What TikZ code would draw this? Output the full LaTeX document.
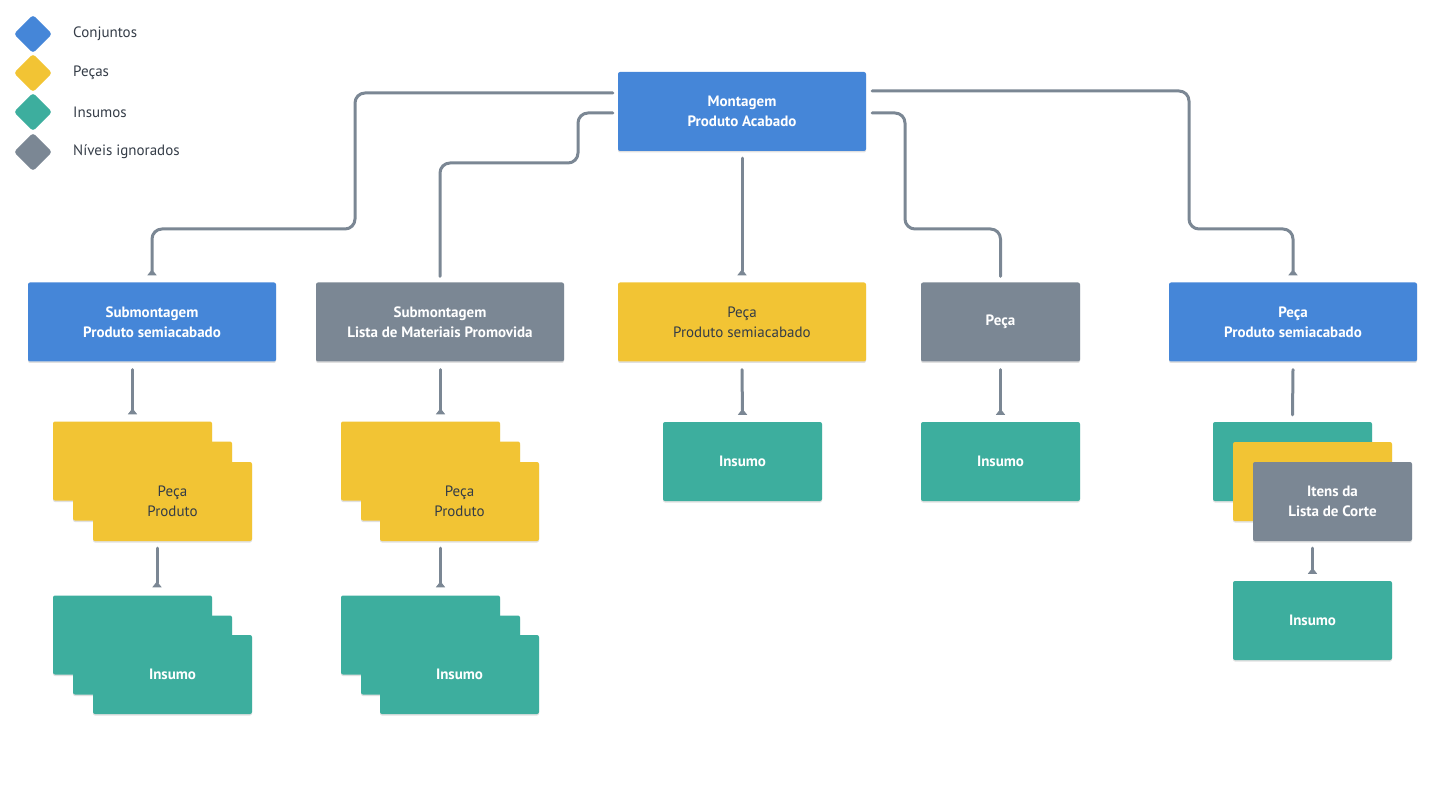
\documentclass[tikz,border=0pt]{standalone}
\usepackage{fontspec}
\setmainfont{PT Sans}
\usetikzlibrary{arrows.meta,calc,shadows}
\definecolor{conjunto}{HTML}{4586D8}
\definecolor{peca}{HTML}{F2C434}
\definecolor{insumo}{HTML}{3DAE9E}
\definecolor{ignorado}{HTML}{7B8794}
\definecolor{linha}{HTML}{7B8794}
\definecolor{escuro}{HTML}{343C47}
\tikzset{
  box/.style={rectangle, rounded corners=2pt, minimum height=79pt, inner sep=0pt,
    align=center, text=white, font=\fontsize{15}{20}\selectfont\bfseries,
    drop shadow={shadow xshift=0pt, shadow yshift=-1.5pt, opacity=0.12, fill=black}},
  wide/.style={box, minimum width=248pt},
  small/.style={box, minimum width=159pt},
  conj/.style={fill=conjunto},
  pec/.style={fill=peca, text=escuro, font=\fontsize{15}{20}\selectfont},
  ins/.style={fill=insumo},
  ign/.style={fill=ignorado},
  legd/.style={rectangle, rotate=45, minimum size=27pt, inner sep=0pt, rounded corners=3pt},
  legt/.style={anchor=west, inner sep=0pt, text=escuro, font=\fontsize{15}{18}\selectfont},
  link/.style={draw=linha, line width=3pt, rounded corners=10pt, line cap=round},
  tip/.style={-{Triangle[reversed, width=9pt, length=6pt]}}
}
\begin{document}
\begin{tikzpicture}[x=1pt, y=-1pt]
\useasboundingbox (0,0) rectangle (1444,786);

% legenda
\node[legd, fill=conjunto] (lg1) at (33,34) {};
\node[legd, fill=peca] (lg2) at (33,73) {};
\node[legd, fill=insumo] (lg3) at (33,112) {};
\node[legd, fill=ignorado] (lg4) at (33,152) {};
\node[legt] (lt1) at (73,34) {Conjuntos};
\node[legt] (lt2) at (73,73) {Peças};
\node[legt] (lt3) at (73,112) {Insumos};
\node[legt] (lt4) at (73,152) {Níveis ignorados};

% niveis
\node[wide, conj] (mont) at (742,111.5) {Montagem\\Produto Acabado};
\node[wide, conj] (subA) at (152,322) {Submontagem\\Produto semiacabado};
\node[wide, ign] (subB) at (440,322) {Submontagem\\Lista de Materiais Promovida};
\node[wide, pec] (pecaC) at (742,322) {Peça\\Produto semiacabado};
\node[small, ign] (pecaD) at (1000.5,322) {Peça};
\node[wide, conj] (pecaE) at (1293,322) {Peça\\Produto semiacabado};

% pilhas sob subA
\node[small, pec] (pA1) at (132.5,461) {};
\node[small, pec] (pA2) at (152.5,481) {};
\node[small, pec] (pA3) at (172.5,501.5) {Peça\\Produto};
\node[small, ins] (iA1) at (132.5,635) {};
\node[small, ins] (iA2) at (152.5,655) {};
\node[small, ins] (iA3) at (172.5,674.5) {Insumo};

% pilhas sob subB
\node[small, pec] (pB1) at (420.5,461) {};
\node[small, pec] (pB2) at (440.5,481) {};
\node[small, pec] (pB3) at (459.5,501.5) {Peça\\Produto};
\node[small, ins] (iB1) at (420.5,635) {};
\node[small, ins] (iB2) at (440.5,655) {};
\node[small, ins] (iB3) at (459.5,674.5) {Insumo};

\node[small, ins] (iC) at (742.5,461.5) {Insumo};
\node[small, ins] (iD) at (1000.5,461.5) {Insumo};

% pilha sob pecaE
\node[small, ins] (eG) at (1292.5,461.5) {};
\node[small, pec] (eY) at (1312.5,481.5) {};
\node[small, ign] (eC) at (1332.5,501.5) {Itens da\\Lista de Corte};
\node[small, ins] (iE) at (1312.5,620.5) {Insumo};

% ligacoes
\draw[link, tip] ($(mont.west)+(-5,-18.5)$) -| (355,229) -| ($(subA.north)+(0,-7)$);
\draw[link] ($(mont.west)+(-5,1.5)$) -| (578,163) -| ($(subB.north)+(0,-6)$);
\draw[link, tip] ($(mont.south)+(0,7)$) -- ($(pecaC.north)+(0,-7)$);
\draw[link] ($(mont.east)+(6,1.5)$) -| (905,229) -| ($(pecaD.north)+(0,-6)$);
\draw[link, tip] ($(mont.east)+(6,-20.5)$) -| (1189,229) -| ($(pecaE.north)+(0,-7)$);

\draw[link, tip] ($(pA1.north |- subA.south)+(0,8)$) -- ($(pA1.north)+(0,-7)$);
\draw[link, tip] ($(pA3.south)+(-15.5,7)$) coordinate (a) -- ($(a |- iA1.north)+(0,-8)$);
\draw[link, tip] ($(pB2.north |- subB.south)+(0,8)$) -- ($(pB2.north |- pB1.north)+(0,-7)$);
\draw[link, tip] ($(pB2.south |- pB3.south)+(0,7)$) -- ($(iB2.north |- iB1.north)+(0,-8)$);
\draw[link, tip] ($(pecaC.south)+(0,8)$) -- ($(iC.north)+(0,-7)$);
\draw[link, tip] ($(pecaD.south)+(0,8)$) -- ($(iD.north)+(0,-7)$);
\draw[link] ($(pecaE.south)+(0,8)$) -- ($(eG.north)+(0,-7)$);
\draw[link, tip] ($(eY.south |- eC.south)+(0,7)$) -- ($(iE.north)+(0,-7)$);
\end{tikzpicture}
\end{document}
